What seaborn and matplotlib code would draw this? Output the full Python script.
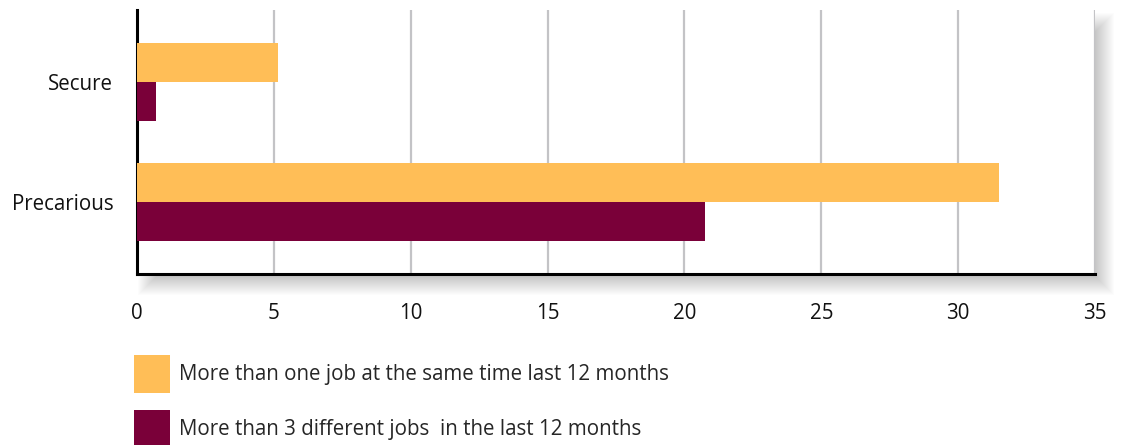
import pandas as pd
import matplotlib
matplotlib.use("Agg")
import matplotlib.pyplot as plt
import matplotlib.patches as mpatches
import seaborn as sns

# data
groups = ["Secure", "Precarious"]
series = ["More than one job at the same time last 12 months",
          "More than 3 different jobs  in the last 12 months"]
multi_job = [5.15, 31.5]
three_jobs = [0.68, 20.75]
colors = ["#FFBE57", "#7A0039"]

rows = []
for g, a, b in zip(groups, multi_job, three_jobs):
    rows.append({"Group": g, "Series": series[0], "Value": a})
    rows.append({"Group": g, "Series": series[1], "Value": b})
df = pd.DataFrame(rows)

sns.set_style("white")
plt.rcParams["font.family"] = ["Open Sans", "DejaVu Sans"]

W, H = 1121, 445
fig = plt.figure(figsize=(W / 100, H / 100), dpi=100)

# axes box in pixels
x0, x1, ytop, ybot = 137, 1095, 10, 274
left, bottom = x0 / W, (H - ybot) / H
width, height = (x1 - x0) / W, (ybot - ytop) / H

# soft drop shadow to the lower right of the plot area
dx, dy = 10, 12
for g in range(-9, 10):
    r = mpatches.Rectangle(
        ((x0 + dx - g) / W, (H - ybot - dy - g) / H),
        (x1 - x0 + 2 * g) / W, (ybot - ytop + 2 * g) / H,
        transform=fig.transFigure, facecolor="black",
        edgecolor="none", alpha=0.011, zorder=0)
    fig.patches.append(r)

ax = fig.add_axes([left, bottom, width, height], zorder=1)
ax.set_facecolor("white")

sns.barplot(data=df, y="Group", x="Value", hue="Series", orient="h",
            palette=colors, width=0.65, saturation=1, linewidth=0,
            ax=ax, zorder=3)

ax.set_xlim(0, 35)
ax.set_ylim(1.6, -0.6)
ax.set_xticks(range(0, 36, 5))
ax.grid(axis="x", color="#c3c3c6", linewidth=1.6, zorder=0)
ax.set_axisbelow(True)
for s in ["top", "right"]:
    ax.spines[s].set_visible(False)
for s in ["left", "bottom"]:
    ax.spines[s].set_color("black")
    ax.spines[s].set_linewidth(2.2)
ax.tick_params(axis="both", length=0, labelsize=14.8, colors="#111111")
ax.tick_params(axis="x", pad=21)
ax.tick_params(axis="y", pad=17)
ax.set_xlabel("")
ax.set_ylabel("")

handles, labels = ax.get_legend_handles_labels()
ax.get_legend().remove()
fig.legend(handles, labels, loc="upper left",
           bbox_to_anchor=(134 / W, 1 - 355 / H), frameon=False,
           fontsize=14.8, handlelength=1.75, handleheight=2.46,
           handletextpad=0.45, labelspacing=0.83, borderaxespad=0,
           borderpad=0)

fig.savefig("out.png", dpi=100)
